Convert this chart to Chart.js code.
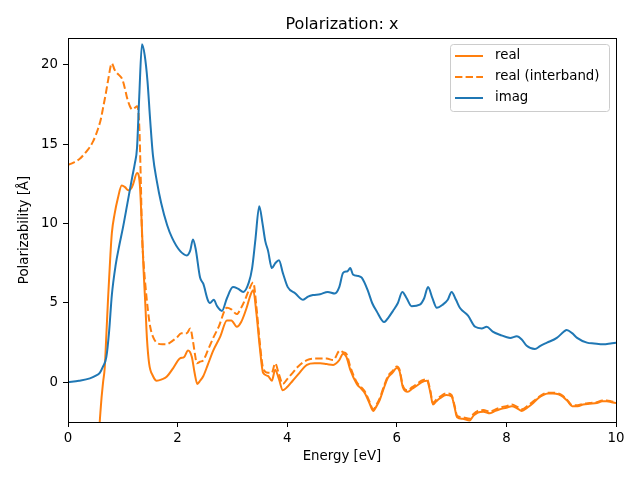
<!DOCTYPE html>
<html>
<head>
<meta charset="utf-8">
<script src="https://cdn.jsdelivr.net/npm/chart.js@4/dist/chart.umd.min.js"></script>
<style>
  html, body { margin: 0; padding: 0; background: #fff; }
  canvas { display: block; }
</style>
</head>
<body>
<canvas id="c" width="640" height="480"></canvas>
<script>
const chartTitle = "Polarization: x";
const xLabel = "Energy [eV]";
const yLabel = "Polarizability [Å]";
const seriesNames = ["real", "real (interband)", "imag"];
const xTicks = [0, 2, 4, 6, 8, 10];
const yTicks = [0, 5, 10, 15, 20];

const energyImag = [0,0.2,0.4,0.5,0.58,0.64,0.7,0.75,0.8,0.87,0.94,1.0,1.08,1.17,1.22,1.26,1.3,1.35,1.4,1.45,1.5,1.55,1.62,1.7,1.81,1.9,2.04,2.17,2.23,2.28,2.33,2.41,2.47,2.55,2.59,2.66,2.72,2.81,2.9,3.01,3.1,3.2,3.3,3.36,3.42,3.49,3.55,3.6,3.65,3.72,3.78,3.85,3.92,4.01,4.15,4.29,4.38,4.47,4.6,4.74,4.87,4.95,5.02,5.1,5.15,5.2,5.3,5.36,5.47,5.55,5.63,5.77,5.85,5.93,6.02,6.1,6.18,6.27,6.42,6.5,6.57,6.65,6.73,6.84,6.93,7.0,7.08,7.15,7.3,7.43,7.55,7.64,7.75,7.88,8.07,8.19,8.28,8.37,8.52,8.62,8.74,8.92,9.05,9.1,9.2,9.29,9.47,9.6,9.77,9.9,10.0];
const imag = [0.0,0.1,0.25,0.4,0.6,1.0,1.6,3.2,5.5,7.4,8.7,9.7,11.2,12.9,13.8,14.8,18.0,21.3,20.6,19.0,16.5,14.3,12.7,11.3,9.9,9.1,8.3,8.0,8.3,9.0,8.4,6.6,6.2,5.2,5.0,5.2,4.8,4.5,5.3,6.0,5.9,5.7,6.3,7.2,9.0,11.1,10.0,8.9,8.3,7.2,7.5,7.7,6.9,6.0,5.6,5.2,5.4,5.5,5.55,5.7,5.6,6.0,6.9,7.0,7.2,6.8,6.7,6.6,5.8,5.0,4.5,3.8,4.1,4.5,5.0,5.7,5.3,4.8,4.9,5.3,6.0,5.3,4.7,4.9,5.2,5.7,5.2,4.7,4.2,3.5,3.4,3.5,3.2,3.0,2.8,2.9,2.7,2.3,2.1,2.3,2.5,2.8,3.2,3.3,3.1,2.8,2.5,2.45,2.4,2.45,2.5];

const energyReal = [0.5,0.56,0.6,0.64,0.67,0.7,0.73,0.77,0.8,0.85,0.91,0.98,1.04,1.1,1.15,1.19,1.26,1.31,1.35,1.38,1.41,1.44,1.48,1.55,1.62,1.72,1.8,1.92,2.04,2.12,2.19,2.26,2.31,2.36,2.41,2.47,2.55,2.65,2.78,2.9,2.98,3.08,3.16,3.26,3.33,3.38,3.44,3.5,3.56,3.65,3.72,3.78,3.85,3.92,4.0,4.1,4.2,4.36,4.5,4.6,4.72,4.84,4.95,5.02,5.08,5.15,5.27,5.35,5.42,5.5,5.57,5.63,5.69,5.76,5.84,5.92,6.0,6.05,6.11,6.2,6.28,6.37,6.45,6.55,6.61,6.66,6.72,6.79,6.9,7.0,7.05,7.1,7.2,7.33,7.4,7.48,7.58,7.7,7.8,7.88,8.0,8.1,8.2,8.28,8.38,8.49,8.58,8.67,8.76,8.85,8.95,9.03,9.12,9.2,9.3,9.4,9.52,9.65,9.75,9.83,9.92,10.0];
const real = [-14,-4,-1.5,0.0,0.9,3.0,5.2,7.8,9.4,10.6,11.6,12.4,12.3,12.1,12.2,12.5,13.2,12.5,9.6,7.0,5.0,2.8,1.2,0.4,0.1,0.2,0.35,0.9,1.5,1.6,2.0,1.6,0.6,-0.1,0.1,0.4,1.1,2.0,2.9,3.9,3.9,3.5,3.8,4.7,5.5,5.8,4.3,2.2,0.6,0.4,0.1,0.8,0.2,-0.5,-0.3,0.1,0.5,1.1,1.2,1.2,1.15,1.1,1.4,1.8,1.6,0.8,-0.1,-0.4,-0.7,-1.3,-1.8,-1.5,-1.1,-0.4,0.3,0.6,0.9,0.7,-0.3,-0.6,-0.4,-0.2,0.0,0.1,-0.6,-1.4,-1.2,-1.0,-0.8,-0.9,-1.5,-2.2,-2.3,-2.4,-2.1,-1.9,-1.85,-1.95,-1.8,-1.7,-1.6,-1.5,-1.65,-1.8,-1.6,-1.3,-1.0,-0.8,-0.7,-0.7,-0.75,-0.9,-1.2,-1.5,-1.5,-1.4,-1.35,-1.3,-1.2,-1.2,-1.25,-1.3];

const energyInter = [0,0.1,0.22,0.3,0.35,0.46,0.55,0.6,0.64,0.69,0.73,0.8,0.85,0.89,0.95,0.99,1.04,1.08,1.13,1.17,1.22,1.26,1.3,1.33,1.35,1.38,1.41,1.46,1.5,1.56,1.62,1.72,1.8,1.9,1.98,2.07,2.17,2.23,2.28,2.32,2.35,2.41,2.47,2.55,2.65,2.75,2.9,2.98,3.08,3.16,3.23,3.3,3.38,3.44,3.5,3.56,3.65,3.72,3.78,3.85,3.92,4.0,4.1,4.2,4.36,4.5,4.6,4.72,4.84,4.96,5.02,5.08,5.15,5.27,5.35,5.42,5.5,5.57,5.63,5.69,5.76,5.84,5.92,6.0,6.05,6.11,6.2,6.28,6.37,6.45,6.55,6.61,6.66,6.72,6.79,6.9,7.0,7.05,7.1,7.2,7.33,7.4,7.48,7.58,7.7,7.8,7.88,8.0,8.1,8.2,8.28,8.38,8.49,8.58,8.67,8.76,8.85,8.95,9.03,9.12,9.2,9.3,9.4,9.52,9.65,9.75,9.83,9.92,10.0];
const realInter = [13.7,13.85,14.1,14.4,14.6,15.2,16.0,16.6,17.3,18.2,19.0,20.1,19.7,19.5,19.3,19.1,18.5,17.9,17.4,17.2,17.3,17.4,16.2,12.5,9.4,7.5,6.2,4.5,3.5,2.8,2.5,2.4,2.4,2.6,2.8,3.1,3.1,3.4,2.6,1.7,1.2,1.3,1.4,2.0,2.8,3.5,4.7,4.6,4.3,4.7,5.2,5.8,6.3,4.7,2.5,0.9,0.6,0.6,1.2,0.5,-0.1,0.2,0.6,1.0,1.4,1.5,1.5,1.5,1.4,2.0,1.9,1.8,1.0,0.0,-0.3,-0.6,-1.2,-1.7,-1.4,-1.0,-0.3,0.4,0.7,1.0,0.8,-0.2,-0.5,-0.3,-0.1,0.1,0.2,-0.5,-1.3,-1.1,-0.9,-0.7,-0.8,-1.4,-2.1,-2.2,-2.3,-2.0,-1.8,-1.75,-1.85,-1.7,-1.6,-1.5,-1.4,-1.55,-1.7,-1.5,-1.2,-0.95,-0.75,-0.65,-0.65,-0.7,-0.85,-1.15,-1.45,-1.45,-1.35,-1.3,-1.25,-1.15,-1.15,-1.2,-1.25];

const toPts = (xs, ys) => xs.map((x, i) => ({ x: x, y: ys[i] }));
const ORANGE = '#ff7f0e', BLUE = '#1f77b4';
const FONT = "'DejaVu Sans', sans-serif";
const FS = 13.33;

const frameAndText = {
  id: 'frameAndText',
  afterDatasetsDraw(chart) {
    const { ctx, chartArea: a } = chart;
    ctx.save();
    ctx.strokeStyle = '#000';
    ctx.lineWidth = 1;
    ctx.strokeRect(Math.round(a.left) + 0.5, Math.round(a.top) + 0.5, Math.round(a.right - a.left), Math.round(a.bottom - a.top));
    ctx.fillStyle = '#000';
    ctx.font = "16px " + FONT;
    ctx.textAlign = 'center';
    ctx.textBaseline = 'alphabetic';
    ctx.fillText(chartTitle, (a.left + a.right) / 2, 29);
    const bx = 450, by = 44, bw = 159, bh = 67;
    ctx.fillStyle = 'rgba(255,255,255,0.8)';
    ctx.strokeStyle = '#cccccc';
    ctx.lineWidth = 1;
    ctx.beginPath();
    if (ctx.roundRect) ctx.roundRect(bx + 0.5, by + 0.5, bw, bh, 3); else ctx.rect(bx + 0.5, by + 0.5, bw, bh);
    ctx.fill();
    ctx.stroke();
    const rows = [56, 77, 98];
    const colors = [ORANGE, ORANGE, BLUE];
    const dashes = [[], [7.4, 3.2], []];
    ctx.font = FS + "px " + FONT;
    ctx.textAlign = 'left';
    ctx.textBaseline = 'middle';
    for (let i = 0; i < 3; i++) {
      ctx.strokeStyle = colors[i];
      ctx.lineWidth = 2;
      ctx.setLineDash(dashes[i]);
      ctx.beginPath();
      ctx.moveTo(455, rows[i]);
      ctx.lineTo(483, rows[i]);
      ctx.stroke();
      ctx.setLineDash([]);
      ctx.fillStyle = '#000';
      ctx.fillText(seriesNames[i], 495, rows[i]);
    }
    ctx.restore();
  }
};

new Chart(document.getElementById('c'), {
  type: 'line',
  data: {
    datasets: [
      { label: seriesNames[0], data: toPts(energyReal, real), borderColor: ORANGE, borderWidth: 2, pointRadius: 0, fill: false, cubicInterpolationMode: 'monotone', order: 2 },
      { label: seriesNames[1], data: toPts(energyInter, realInter), borderColor: ORANGE, borderWidth: 2, borderDash: [7.4, 3.2], pointRadius: 0, fill: false, cubicInterpolationMode: 'monotone', order: 1 },
      { label: seriesNames[2], data: toPts(energyImag, imag), borderColor: BLUE, borderWidth: 2, pointRadius: 0, fill: false, cubicInterpolationMode: 'monotone', order: 0 }
    ]
  },
  options: {
    responsive: false,
    animation: false,
    devicePixelRatio: 1,
    layout: { padding: { left: 0, right: 24, top: 38, bottom: 0 } },
    plugins: { legend: { display: false }, tooltip: { enabled: false }, title: { display: false } },
    scales: {
      x: {
        type: 'linear', min: 0, max: 10,
        afterBuildTicks: (s) => { s.ticks = xTicks.map(v => ({ value: v })); },
        afterFit: (s) => { s.height = 58; },
        ticks: { color: '#000', font: { family: FONT, size: FS }, padding: 4, maxRotation: 0, callback: (v) => String(v) },
        grid: { drawOnChartArea: false, drawTicks: true, tickLength: 5, color: '#000', tickWidth: 1 },
        border: { display: true, color: '#000', width: 1 },
        title: { display: true, text: xLabel, color: '#000', font: { family: FONT, size: FS }, padding: { top: 0, bottom: 15 } }
      },
      y: {
        type: 'linear', min: -2.5, max: 21.7,
        afterBuildTicks: (s) => { s.ticks = yTicks.map(v => ({ value: v })); },
        afterFit: (s) => { s.width = 68; },
        ticks: { color: '#000', font: { family: FONT, size: FS }, padding: 5, callback: (v) => String(v) },
        grid: { drawOnChartArea: false, drawTicks: true, tickLength: 5, color: '#000', tickWidth: 1 },
        border: { display: true, color: '#000', width: 1 },
        title: { display: true, text: yLabel, color: '#000', font: { family: FONT, size: FS }, padding: { top: 17, bottom: 0 } }
      }
    }
  },
  plugins: [frameAndText]
});
</script>
</body>
</html>
